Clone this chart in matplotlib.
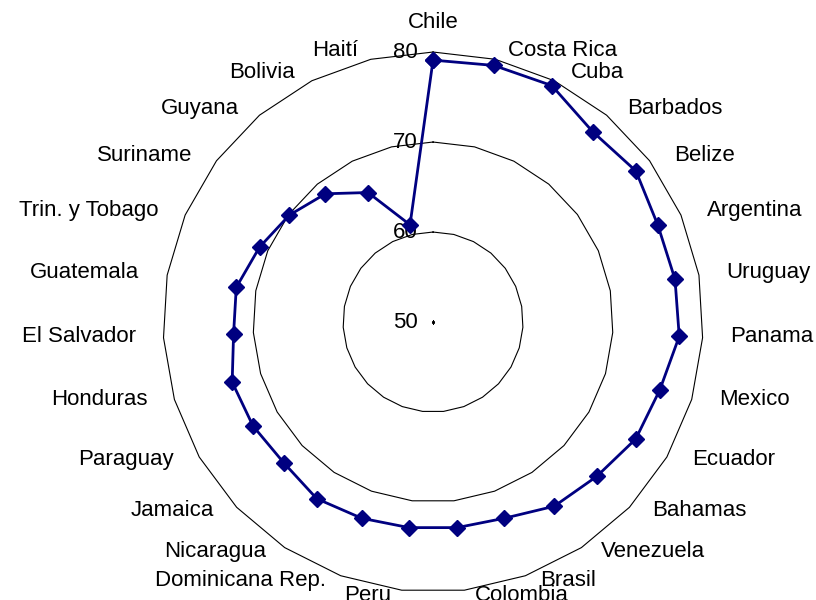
import numpy as np
import matplotlib.pyplot as plt

# categories clockwise from the top
countries = ["Chile", "Costa Rica", "Cuba", "Barbados", "Belize", "Argentina",
             "Uruguay", "Panama", "Mexico", "Ecuador", "Bahamas", "Venezuela",
             "Brasil", "Colombia", "Peru", "Dominicana Rep.", "Nicaragua",
             "Jamaica", "Paraguay", "Honduras", "El Salvador", "Guatemala",
             "Trin. y Tobago", "Suriname", "Guyana", "Bolivia", "Haití"]
values = [79.1, 79.3, 79.4, 77.6, 78.1, 77.2, 77.3, 77.4, 76.3, 76.0, 75.0,
          74.5, 73.2, 73.0, 73.0, 73.2, 73.5, 72.8, 73.1, 73.3, 72.2, 72.2,
          71.0, 69.9, 68.6, 66.1, 61.1]
ring_levels = [60, 70, 80]
tick_labels = ["50", "60", "70", "80"]

plt.rcParams['font.family'] = ['Liberation Sans', 'DejaVu Sans']
FS = 16

n = len(countries)
theta = np.arange(n) * 2 * np.pi / n
theta_closed = np.append(theta, theta[0])

fig = plt.figure(figsize=(8.16, 6.0), dpi=100)
ax = fig.add_axes([0.1998, 0.0133, 0.6618, 0.9], projection='polar')
ax.set_theta_zero_location('N')
ax.set_theta_direction(-1)
ax.set_rlim(50, 80)
ax.grid(False)
ax.set_xticks([])
ax.set_yticks([])
ax.spines['polar'].set_visible(False)

# polygon gridlines like the Excel radar chart
for lev in ring_levels:
    ax.plot(theta_closed, [lev] * (n + 1), color='black', lw=0.8, clip_on=False)
ax.plot([0], [50], marker='s', ms=1.2, color='black')

# data series
ax.plot(theta_closed, values + values[:1], color='#000080', lw=2,
        marker='D', ms=8, mfc='#000080', mec='#000080', clip_on=False, zorder=5)

# value axis labels
for lab in tick_labels:
    ax.annotate(lab, xy=(0, float(lab)), xytext=(-15, 0), textcoords='offset pixels',
                ha='right', va='center', fontsize=FS, annotation_clip=False)

# category labels, placed just outside the outer ring
for t, name in zip(theta, countries):
    s, c = np.sin(t), np.cos(t)
    if abs(s) < 1e-6:
        off, ha = (0, 30), 'center'
    else:
        dx = np.sign(s) * (8 + 20 * abs(s))
        dy = 7 * c + 1.5
        off, ha = (dx, dy), ('left' if s > 0 else 'right')
    ax.annotate(name, xy=(t, 80), xytext=off, textcoords='offset pixels',
                ha=ha, va='center', fontsize=FS, annotation_clip=False)

fig.savefig('out.png', dpi=100, facecolor='white')
